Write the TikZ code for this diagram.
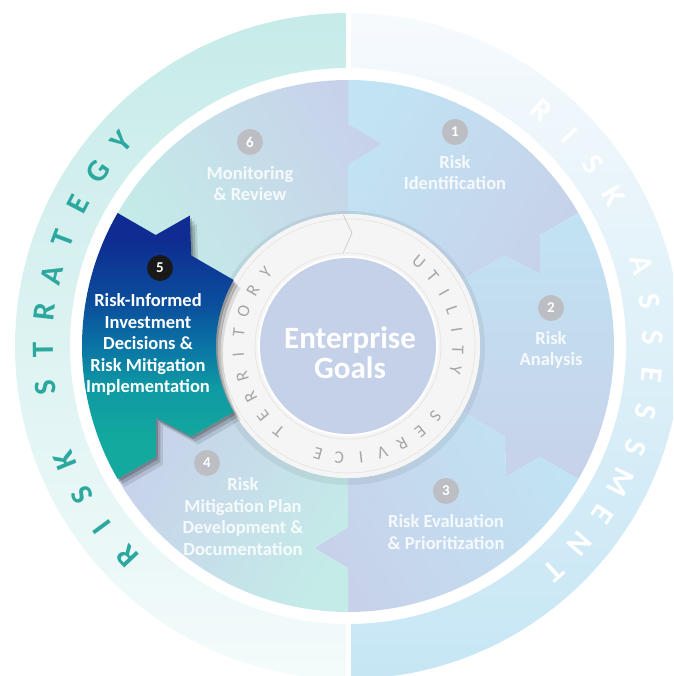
\documentclass[tikz,border=0pt]{standalone}
\usepackage{fontspec}
\setmainfont{Carlito}
\definecolor{peri}{HTML}{C7D2EA}
\definecolor{lblue}{HTML}{C1E3F3}
\definecolor{lteal}{HTML}{C4EBE8}
\definecolor{ringteal}{HTML}{C6EBE9}
\definecolor{ringtealfade}{HTML}{F4FBFB}
\definecolor{ringblue}{HTML}{C6E6F4}
\definecolor{ringbluefade}{HTML}{F6FAFD}
\definecolor{letterteal}{HTML}{2CA89E}
\definecolor{badgegrey}{HTML}{BDBEC3}
\definecolor{ringtext}{HTML}{A6A6A6}
\definecolor{goal}{HTML}{C5D1E9}
\definecolor{navy}{HTML}{0E2C91}
\definecolor{blueA}{HTML}{0B4E9C}
\definecolor{blueB}{HTML}{0A74A5}
\definecolor{tealA}{HTML}{0F9AA3}
\definecolor{tealdark}{HTML}{13A99E}
\definecolor{ringfill}{HTML}{F5F5F5}
\definecolor{ringline}{HTML}{E8E3DC}
\pgfdeclareverticalshading{segfive}{100bp}{color(0bp)=(tealdark); color(32bp)=(tealdark);
  color(42bp)=(tealA); color(50bp)=(blueB); color(58bp)=(blueA); color(70bp)=(navy); color(100bp)=(navy)}
\newcommand\segpath[1]{(#1+60:132) -- (#1+60:181) -- (#1+50.5:205) -- (#1+60:222) -- (#1+60:266)
 arc[start angle=#1+60, end angle=#1, radius=266]
 -- (#1:222) -- (#1-9.5:205) -- (#1:181) -- (#1:132)
 arc[start angle=#1, end angle=#1+60, radius=132] -- cycle}
\begin{document}
\begin{tikzpicture}[x=1pt,y=1pt,
  badge/.style={circle, fill=badgegrey, text=white, minimum size=26, inner sep=0,
    font=\bfseries\fontsize{15}{15}\selectfont},
  lab/.style={align=center, text=white, text opacity=0.85,
    font=\bfseries\fontsize{18.5}{21.5}\selectfont},
  outerletter/.style={inner sep=0, font=\bfseries\fontsize{31}{31}\selectfont},
  innerletter/.style={inner sep=0, text=ringtext, font=\fontsize{17.5}{17.5}\selectfont}]
\useasboundingbox (-348,-330) rectangle (325,346);
\begin{scope}
\clip (-348,-330) rectangle (325,346);
% outer ring
\shade[top color=ringteal, bottom color=ringtealfade]
  (90:333) arc[start angle=90,end angle=270,radius=333] -- (270:278)
  arc[start angle=270,end angle=90,radius=278] -- cycle;
\shade[top color=ringbluefade, bottom color=ringblue]
  (90:333) arc[start angle=90,end angle=-90,radius=333] -- (-90:278)
  arc[start angle=-90,end angle=90,radius=278] -- cycle;
\fill[white] (-2.5,270) rectangle (2.5,340);
\fill[white] (-2.5,-270) rectangle (2.5,-340);
\end{scope}
% segments
\shade[top color=peri, bottom color=lblue, shading angle=-120] \segpath{30};
\shade[top color=peri, bottom color=lblue, shading angle=-180] \segpath{-30};
\shade[top color=peri, bottom color=lblue, shading angle=-240] \segpath{-90};
\shade[top color=peri, bottom color=lteal, shading angle=60] \segpath{210};
\shade[top color=peri, bottom color=lteal, shading angle=-60] \segpath{90};
% middle ring
\fill[black, opacity=0.06] (0,-2) circle[radius=137];
\fill[ringfill] (0,0) circle[radius=132];
\draw[ringline, line width=0.6] (0,0) circle[radius=127];
\draw[ringline, line width=0.6] (0,0) circle[radius=93];
\draw[ringline!80!gray, line width=0.8] (92:131) -- (88:113) -- (93:93);
\fill[white] (0,0) circle[radius=90];
\fill[goal] (0,0) circle[radius=88];
% segment 5 (raised)
\fill[black, opacity=0.10, xshift=7, yshift=-8] \segpath{150};
\fill[black, opacity=0.15, xshift=4.5, yshift=-5] \segpath{150};
\fill[black, opacity=0.20, xshift=2, yshift=-2.5] \segpath{150};
\shade[shading=segfive] \segpath{150};
% outer ring letters
\foreach \ch [count=\i from 0] in {R,I,S,K,{},S,T,R,A,T,E,G,Y}
  \node[outerletter, text=letterteal, rotate={223.5-7.13*\i-90}] (rs\i) at ({223.5-7.13*\i}:305) {\ch};
\foreach \ch [count=\i from 0] in {R,I,S,K,{},A,S,S,E,S,S,M,E,N,T}
  \node[outerletter, text=white, rotate={50.5-7*\i-90}] (ra\i) at ({50.5-7*\i}:305) {\ch};
% middle ring letters
\foreach \ch [count=\i from 0] in {T,E,R,R,I,T,O,R,Y}
  \node[innerletter, rotate={231-11.6*\i-90}] (te\i) at ({231-11.6*\i}:110) {\ch};
\foreach \ch [count=\i from 0] in {U,T,I,L,I,T,Y}
  \node[innerletter, rotate={50-10.4*\i-90}] (ut\i) at ({50-10.4*\i}:110) {\ch};
\foreach \ch [count=\i from 0] in {S,E,R,V,I,C,E}
  \node[innerletter, rotate={-38.7-11.15*\i-90}] (se\i) at ({-38.7-11.15*\i}:112) {\ch};
% centre
\node[align=center, text=white, font=\bfseries\fontsize{31}{30}\selectfont] (goals) at (2,-7) {Enterprise\\Goals};
% badges and labels
\node[badge] (b1) at (107,214) {1};
\node[lab] (l1) at (107,173.5) {Risk\\Identification};
\node[badge] (b2) at (203,38) {2};
\node[lab] (l2) at (203,-4) {Risk\\Analysis};
\node[badge] (b3) at (98,-145) {3};
\node[lab] (l3) at (98,-186) {Risk Evaluation\\\& Prioritization};
\node[badge] (b4) at (-141,-117) {4};
\node[lab] (l4) at (-105,-170.75) {Risk\\Mitigation Plan\\Development \&\\Documentation};
\node[badge, fill=black!90] (b5) at (-188,78) {5};
\node[lab, text opacity=1] (l5) at (-200,1.5) {Risk-Informed\\Investment\\Decisions \&\\Risk Mitigation\\Implementation};
\node[badge] (b6) at (-98,204) {6};
\node[lab] (l6) at (-98,162.5) {Monitoring\\\& Review};
\end{tikzpicture}
\end{document}
